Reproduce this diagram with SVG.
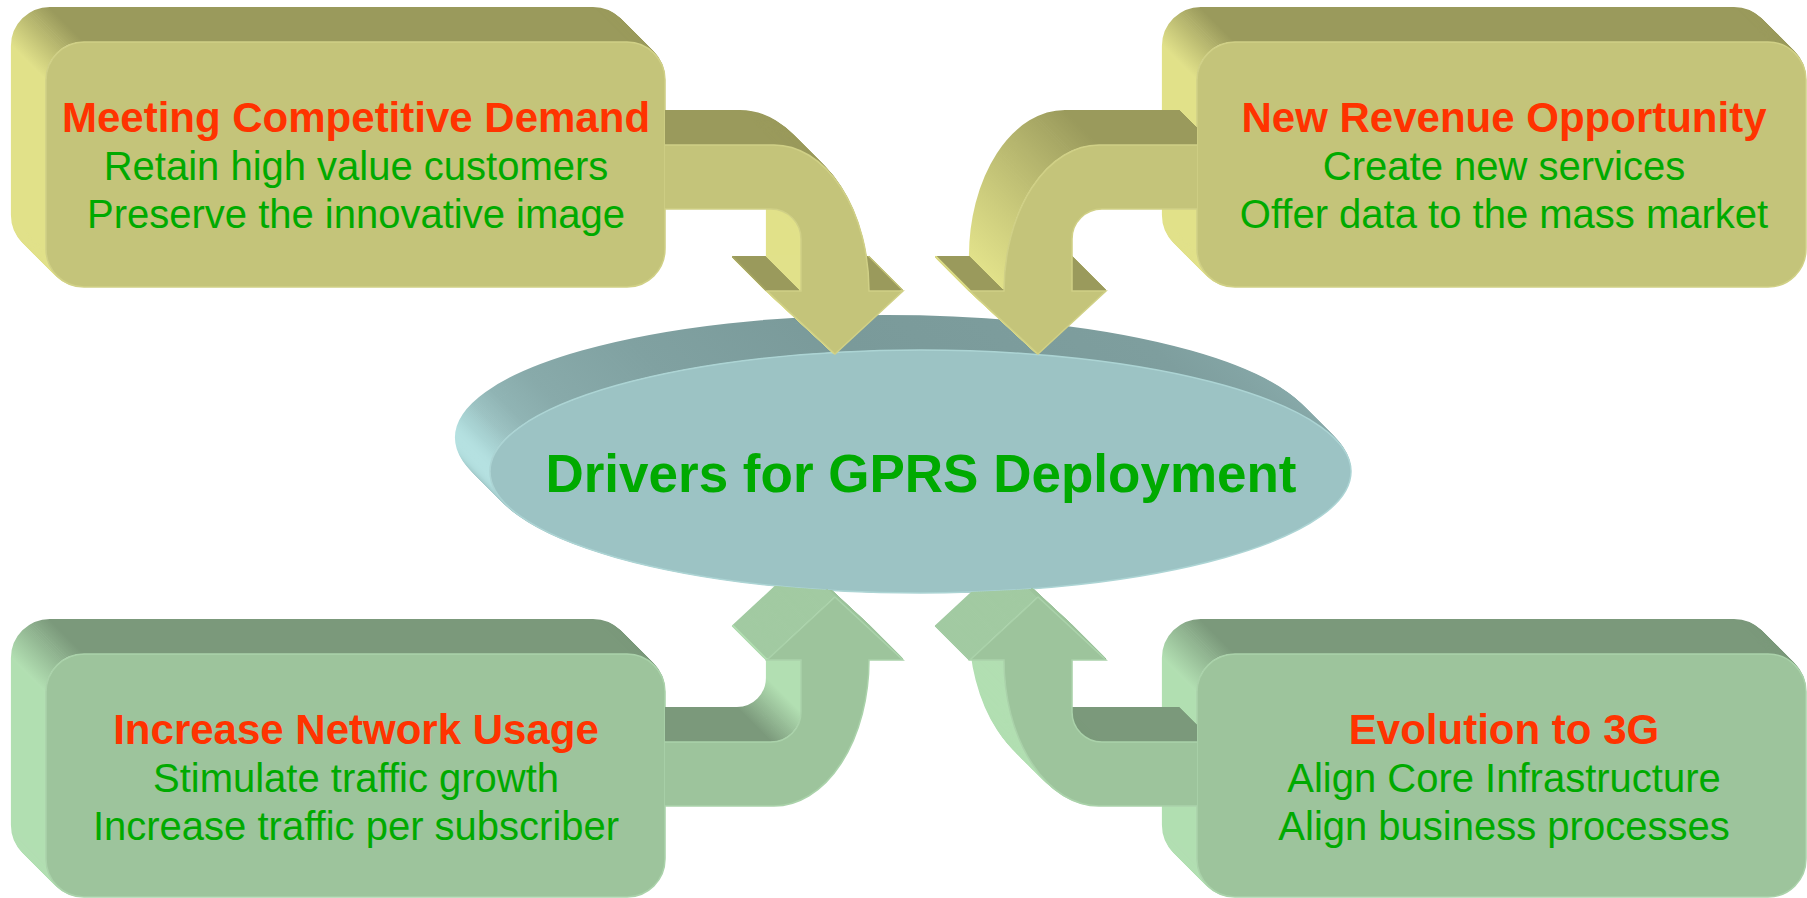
<svg xmlns="http://www.w3.org/2000/svg" width="1807" height="898" viewBox="0 0 1807 898">
<style>
.s{fill:none;stroke-width:2.2;stroke-linecap:round;stroke-linejoin:round}
.yd{stroke:#9a9a5c}.yl{stroke:#e1e18a}.yF{stroke:#c4c47a}.yc{stroke:url(#ycn)}
.gd{stroke:#7b997b}.gl{stroke:#b2dfb2}.gF{stroke:#9dc49c}.gm{stroke:#a2caa2}.gc{stroke:url(#gcn)}.gi{stroke:url(#gin)}
.yf{fill:#c4c47a;stroke:#d0d086;stroke-width:1.5}
.gf{fill:#9dc49c;stroke:#aad2aa;stroke-width:1.5}
.tf{fill:#9cc3c4;stroke:#acd4d4;stroke-width:1.5}
.ttl{font-family:"Liberation Sans",Arial,sans-serif;font-weight:bold;font-size:42px;fill:#ff3300;text-anchor:middle}
.bdy{font-family:"Liberation Sans",Arial,sans-serif;font-size:40px;fill:#00aa00;text-anchor:middle}
.ctr{font-family:"Liberation Sans",Arial,sans-serif;font-weight:bold;font-size:53px;fill:#00aa00;text-anchor:middle}
</style>
<defs>
<linearGradient id="rim" gradientUnits="userSpaceOnUse" x1="490" y1="0" x2="1351" y2="0">
<stop offset="0" stop-color="#b5e1e1"/><stop offset="0.006" stop-color="#aad5d5"/><stop offset="0.02" stop-color="#9cc2c2"/><stop offset="0.04" stop-color="#90b4b4"/><stop offset="0.08" stop-color="#88aaaa"/><stop offset="0.2" stop-color="#80a1a1"/><stop offset="0.42" stop-color="#7a9a9a"/><stop offset="0.8" stop-color="#7e9e9e"/><stop offset="1" stop-color="#88aaaa"/>
</linearGradient>
<linearGradient id="ycn" x1="0" y1="1" x2="1" y2="0"><stop offset="0" stop-color="#e1e18a"/><stop offset="1" stop-color="#9a9a5c"/></linearGradient>
<linearGradient id="gcn" x1="0" y1="1" x2="1" y2="0"><stop offset="0" stop-color="#b2dfb2"/><stop offset="1" stop-color="#7b997b"/></linearGradient>
<linearGradient id="gin" x1="1" y1="0" x2="0" y2="1"><stop offset="0" stop-color="#b2dfb2"/><stop offset="1" stop-color="#7b997b"/></linearGradient>
<clipPath id="conn-clip"><path clip-rule="evenodd" d="M0,0 H1807 V898 H0 Z M84,42 H627 A38,38 0 0 1 665,80 V249 A38,38 0 0 1 627,287 H84 A38,38 0 0 1 46,249 V80 A38,38 0 0 1 84,42 Z M1235,42 H1768 A38,38 0 0 1 1806,80 V249 A38,38 0 0 1 1768,287 H1235 A38,38 0 0 1 1197,249 V80 A38,38 0 0 1 1235,42 Z M84,654 H627 A38,38 0 0 1 665,692 V859 A38,38 0 0 1 627,897 H84 A38,38 0 0 1 46,859 V692 A38,38 0 0 1 84,654 Z M1235,654 H1768 A38,38 0 0 1 1806,692 V859 A38,38 0 0 1 1768,897 H1235 A38,38 0 0 1 1197,859 V692 A38,38 0 0 1 1235,654 Z M490,471.5 A430.5,121.5 0 0 0 1351,471.5 Z"/></clipPath>
<g id="e-tl">
<path class="s yd" d="M84,42 H627 A38,38 0 0 1 665,80 V249"/>
<path class="s yl" d="M665,249 A38,38 0 0 1 627,287 H84 A38,38 0 0 1 46,249 V80"/>
<path class="s yc" d="M46,80 A38,38 0 0 1 84,42"/>
</g>
<g id="e-tr">
<path class="s yd" d="M1235,42 H1768 A38,38 0 0 1 1806,80 V249"/>
<path class="s yl" d="M1806,249 A38,38 0 0 1 1768,287 H1235 A38,38 0 0 1 1197,249 V80"/>
<path class="s yc" d="M1197,80 A38,38 0 0 1 1235,42"/>
</g>
<g id="e-bl">
<path class="s gd" d="M84,654 H627 A38,38 0 0 1 665,692 V859"/>
<path class="s gl" d="M665,859 A38,38 0 0 1 627,897 H84 A38,38 0 0 1 46,859 V692"/>
<path class="s gc" d="M46,692 A38,38 0 0 1 84,654"/>
</g>
<g id="e-br">
<path class="s gd" d="M1235,654 H1768 A38,38 0 0 1 1806,692 V859"/>
<path class="s gl" d="M1806,859 A38,38 0 0 1 1768,897 H1235 A38,38 0 0 1 1197,859 V692"/>
<path class="s gc" d="M1197,692 A38,38 0 0 1 1235,654"/>
</g>
<ellipse id="e-ell" cx="920.5" cy="471.5" rx="430.5" ry="121.5" fill="none" stroke="url(#rim)" stroke-width="2.2"/>
<g id="e-arr">
<path class="s yd" d="M660,145 H774 A95,146 0 0 1 869,291 H903"/>
<path class="s yF" d="M903,291 L835,354"/>
<path class="s yl" d="M835,354 L767,291"/>
<path class="s yd" d="M767,291 H801"/>
<path class="s yl" d="M801,291 V239 A30,30 0 0 0 771,209 H660 V145"/>
<path class="s yd" d="M1213,145 H1099"/>
<path class="s yc" d="M1099,145 A95,146 0 0 0 1004,291"/>
<path class="s yd" d="M1004,291 H970"/>
<path class="s yl" d="M970,291 L1038,354"/>
<path class="s yF" d="M1038,354 L1106,291"/>
<path class="s yd" d="M1106,291 H1072 V239 A30,30 0 0 1 1102,209 H1213 V145"/>
<path class="s gl" d="M660,742 V806 H774 A95,146 0 0 0 869,660 H903"/>
<path class="s gF" d="M903,660 L835,597"/>
<path class="s gm" d="M835,597 L767,660"/>
<path class="s gl" d="M767,660 H801 V712"/>
<path class="s gi" d="M801,712 A30,30 0 0 1 771,742"/>
<path class="s gd" d="M771,742 H660"/>
<path class="s gl" d="M1213,806 H1099 A95,146 0 0 1 1004,660 H970"/>
<path class="s gm" d="M970,660 L1038,597"/>
<path class="s gF" d="M1038,597 L1106,660"/>
<path class="s gd" d="M1106,660 H1072 V712 A30,30 0 0 0 1102,742 H1213 V806"/>
</g>
</defs>

<g id="node-competitive-demand">
<use href="#e-tl" x="-34" y="-34"/><use href="#e-tl" x="-33" y="-33"/><use href="#e-tl" x="-32" y="-32"/><use href="#e-tl" x="-31" y="-31"/><use href="#e-tl" x="-30" y="-30"/><use href="#e-tl" x="-29" y="-29"/><use href="#e-tl" x="-28" y="-28"/><use href="#e-tl" x="-27" y="-27"/><use href="#e-tl" x="-26" y="-26"/><use href="#e-tl" x="-25" y="-25"/><use href="#e-tl" x="-24" y="-24"/><use href="#e-tl" x="-23" y="-23"/><use href="#e-tl" x="-22" y="-22"/><use href="#e-tl" x="-21" y="-21"/><use href="#e-tl" x="-20" y="-20"/><use href="#e-tl" x="-19" y="-19"/><use href="#e-tl" x="-18" y="-18"/><use href="#e-tl" x="-17" y="-17"/><use href="#e-tl" x="-16" y="-16"/><use href="#e-tl" x="-15" y="-15"/><use href="#e-tl" x="-14" y="-14"/><use href="#e-tl" x="-13" y="-13"/><use href="#e-tl" x="-12" y="-12"/><use href="#e-tl" x="-11" y="-11"/><use href="#e-tl" x="-10" y="-10"/><use href="#e-tl" x="-9" y="-9"/><use href="#e-tl" x="-8" y="-8"/><use href="#e-tl" x="-7" y="-7"/><use href="#e-tl" x="-6" y="-6"/><use href="#e-tl" x="-5" y="-5"/><use href="#e-tl" x="-4" y="-4"/><use href="#e-tl" x="-3" y="-3"/><use href="#e-tl" x="-2" y="-2"/><use href="#e-tl" x="-1" y="-1"/>
<rect class="yf" x="46" y="42" width="619" height="245" rx="38"/>
<text class="ttl" x="356" y="132">Meeting Competitive Demand</text>
<text class="bdy" x="356" y="180">Retain high value customers</text>
<text class="bdy" x="356" y="228">Preserve the innovative image</text>
</g>

<g id="node-new-revenue">
<use href="#e-tr" x="-34" y="-34"/><use href="#e-tr" x="-33" y="-33"/><use href="#e-tr" x="-32" y="-32"/><use href="#e-tr" x="-31" y="-31"/><use href="#e-tr" x="-30" y="-30"/><use href="#e-tr" x="-29" y="-29"/><use href="#e-tr" x="-28" y="-28"/><use href="#e-tr" x="-27" y="-27"/><use href="#e-tr" x="-26" y="-26"/><use href="#e-tr" x="-25" y="-25"/><use href="#e-tr" x="-24" y="-24"/><use href="#e-tr" x="-23" y="-23"/><use href="#e-tr" x="-22" y="-22"/><use href="#e-tr" x="-21" y="-21"/><use href="#e-tr" x="-20" y="-20"/><use href="#e-tr" x="-19" y="-19"/><use href="#e-tr" x="-18" y="-18"/><use href="#e-tr" x="-17" y="-17"/><use href="#e-tr" x="-16" y="-16"/><use href="#e-tr" x="-15" y="-15"/><use href="#e-tr" x="-14" y="-14"/><use href="#e-tr" x="-13" y="-13"/><use href="#e-tr" x="-12" y="-12"/><use href="#e-tr" x="-11" y="-11"/><use href="#e-tr" x="-10" y="-10"/><use href="#e-tr" x="-9" y="-9"/><use href="#e-tr" x="-8" y="-8"/><use href="#e-tr" x="-7" y="-7"/><use href="#e-tr" x="-6" y="-6"/><use href="#e-tr" x="-5" y="-5"/><use href="#e-tr" x="-4" y="-4"/><use href="#e-tr" x="-3" y="-3"/><use href="#e-tr" x="-2" y="-2"/><use href="#e-tr" x="-1" y="-1"/>
<rect class="yf" x="1197" y="42" width="609" height="245" rx="38"/>
<text class="ttl" x="1504" y="132">New Revenue Opportunity</text>
<text class="bdy" x="1504" y="180">Create new services</text>
<text class="bdy" x="1504" y="228">Offer data to the mass market</text>
</g>

<g id="node-network-usage">
<use href="#e-bl" x="-34" y="-34"/><use href="#e-bl" x="-33" y="-33"/><use href="#e-bl" x="-32" y="-32"/><use href="#e-bl" x="-31" y="-31"/><use href="#e-bl" x="-30" y="-30"/><use href="#e-bl" x="-29" y="-29"/><use href="#e-bl" x="-28" y="-28"/><use href="#e-bl" x="-27" y="-27"/><use href="#e-bl" x="-26" y="-26"/><use href="#e-bl" x="-25" y="-25"/><use href="#e-bl" x="-24" y="-24"/><use href="#e-bl" x="-23" y="-23"/><use href="#e-bl" x="-22" y="-22"/><use href="#e-bl" x="-21" y="-21"/><use href="#e-bl" x="-20" y="-20"/><use href="#e-bl" x="-19" y="-19"/><use href="#e-bl" x="-18" y="-18"/><use href="#e-bl" x="-17" y="-17"/><use href="#e-bl" x="-16" y="-16"/><use href="#e-bl" x="-15" y="-15"/><use href="#e-bl" x="-14" y="-14"/><use href="#e-bl" x="-13" y="-13"/><use href="#e-bl" x="-12" y="-12"/><use href="#e-bl" x="-11" y="-11"/><use href="#e-bl" x="-10" y="-10"/><use href="#e-bl" x="-9" y="-9"/><use href="#e-bl" x="-8" y="-8"/><use href="#e-bl" x="-7" y="-7"/><use href="#e-bl" x="-6" y="-6"/><use href="#e-bl" x="-5" y="-5"/><use href="#e-bl" x="-4" y="-4"/><use href="#e-bl" x="-3" y="-3"/><use href="#e-bl" x="-2" y="-2"/><use href="#e-bl" x="-1" y="-1"/>
<rect class="gf" x="46" y="654" width="619" height="243" rx="38"/>
<text class="ttl" x="356" y="744">Increase Network Usage</text>
<text class="bdy" x="356" y="792">Stimulate traffic growth</text>
<text class="bdy" x="356" y="840">Increase traffic per subscriber</text>
</g>

<g id="node-evolution-3g">
<use href="#e-br" x="-34" y="-34"/><use href="#e-br" x="-33" y="-33"/><use href="#e-br" x="-32" y="-32"/><use href="#e-br" x="-31" y="-31"/><use href="#e-br" x="-30" y="-30"/><use href="#e-br" x="-29" y="-29"/><use href="#e-br" x="-28" y="-28"/><use href="#e-br" x="-27" y="-27"/><use href="#e-br" x="-26" y="-26"/><use href="#e-br" x="-25" y="-25"/><use href="#e-br" x="-24" y="-24"/><use href="#e-br" x="-23" y="-23"/><use href="#e-br" x="-22" y="-22"/><use href="#e-br" x="-21" y="-21"/><use href="#e-br" x="-20" y="-20"/><use href="#e-br" x="-19" y="-19"/><use href="#e-br" x="-18" y="-18"/><use href="#e-br" x="-17" y="-17"/><use href="#e-br" x="-16" y="-16"/><use href="#e-br" x="-15" y="-15"/><use href="#e-br" x="-14" y="-14"/><use href="#e-br" x="-13" y="-13"/><use href="#e-br" x="-12" y="-12"/><use href="#e-br" x="-11" y="-11"/><use href="#e-br" x="-10" y="-10"/><use href="#e-br" x="-9" y="-9"/><use href="#e-br" x="-8" y="-8"/><use href="#e-br" x="-7" y="-7"/><use href="#e-br" x="-6" y="-6"/><use href="#e-br" x="-5" y="-5"/><use href="#e-br" x="-4" y="-4"/><use href="#e-br" x="-3" y="-3"/><use href="#e-br" x="-2" y="-2"/><use href="#e-br" x="-1" y="-1"/>
<rect class="gf" x="1197" y="654" width="609" height="243" rx="38"/>
<text class="ttl" x="1504" y="744">Evolution to 3G</text>
<text class="bdy" x="1504" y="792">Align Core Infrastructure</text>
<text class="bdy" x="1504" y="840">Align business processes</text>
</g>

<g id="node-drivers">
<use href="#e-ell" x="-34" y="-34"/><use href="#e-ell" x="-33" y="-33"/><use href="#e-ell" x="-32" y="-32"/><use href="#e-ell" x="-31" y="-31"/><use href="#e-ell" x="-30" y="-30"/><use href="#e-ell" x="-29" y="-29"/><use href="#e-ell" x="-28" y="-28"/><use href="#e-ell" x="-27" y="-27"/><use href="#e-ell" x="-26" y="-26"/><use href="#e-ell" x="-25" y="-25"/><use href="#e-ell" x="-24" y="-24"/><use href="#e-ell" x="-23" y="-23"/><use href="#e-ell" x="-22" y="-22"/><use href="#e-ell" x="-21" y="-21"/><use href="#e-ell" x="-20" y="-20"/><use href="#e-ell" x="-19" y="-19"/><use href="#e-ell" x="-18" y="-18"/><use href="#e-ell" x="-17" y="-17"/><use href="#e-ell" x="-16" y="-16"/><use href="#e-ell" x="-15" y="-15"/><use href="#e-ell" x="-14" y="-14"/><use href="#e-ell" x="-13" y="-13"/><use href="#e-ell" x="-12" y="-12"/><use href="#e-ell" x="-11" y="-11"/><use href="#e-ell" x="-10" y="-10"/><use href="#e-ell" x="-9" y="-9"/><use href="#e-ell" x="-8" y="-8"/><use href="#e-ell" x="-7" y="-7"/><use href="#e-ell" x="-6" y="-6"/><use href="#e-ell" x="-5" y="-5"/><use href="#e-ell" x="-4" y="-4"/><use href="#e-ell" x="-3" y="-3"/><use href="#e-ell" x="-2" y="-2"/><use href="#e-ell" x="-1" y="-1"/>
<ellipse class="tf" cx="920.5" cy="471.5" rx="430.5" ry="121.5"/>
<text class="ctr" x="921" y="492">Drivers for GPRS Deployment</text>
</g>

<g id="connectors" clip-path="url(#conn-clip)">
<use href="#e-arr" x="-34" y="-34"/><use href="#e-arr" x="-33" y="-33"/><use href="#e-arr" x="-32" y="-32"/><use href="#e-arr" x="-31" y="-31"/><use href="#e-arr" x="-30" y="-30"/><use href="#e-arr" x="-29" y="-29"/><use href="#e-arr" x="-28" y="-28"/><use href="#e-arr" x="-27" y="-27"/><use href="#e-arr" x="-26" y="-26"/><use href="#e-arr" x="-25" y="-25"/><use href="#e-arr" x="-24" y="-24"/><use href="#e-arr" x="-23" y="-23"/><use href="#e-arr" x="-22" y="-22"/><use href="#e-arr" x="-21" y="-21"/><use href="#e-arr" x="-20" y="-20"/><use href="#e-arr" x="-19" y="-19"/><use href="#e-arr" x="-18" y="-18"/><use href="#e-arr" x="-17" y="-17"/><use href="#e-arr" x="-16" y="-16"/><use href="#e-arr" x="-15" y="-15"/><use href="#e-arr" x="-14" y="-14"/><use href="#e-arr" x="-13" y="-13"/><use href="#e-arr" x="-12" y="-12"/><use href="#e-arr" x="-11" y="-11"/><use href="#e-arr" x="-10" y="-10"/><use href="#e-arr" x="-9" y="-9"/><use href="#e-arr" x="-8" y="-8"/><use href="#e-arr" x="-7" y="-7"/><use href="#e-arr" x="-6" y="-6"/><use href="#e-arr" x="-5" y="-5"/><use href="#e-arr" x="-4" y="-4"/><use href="#e-arr" x="-3" y="-3"/><use href="#e-arr" x="-2" y="-2"/><use href="#e-arr" x="-1" y="-1"/>
<path id="arrow-competitive" class="yf" d="M660,145 H774 A95,146 0 0 1 869,291 H903 L835,354 L767,291 H801 V239 A30,30 0 0 0 771,209 H660 Z"/>
<path id="arrow-revenue" class="yf" d="M1213,145 H1099 A95,146 0 0 0 1004,291 H970 L1038,354 L1106,291 H1072 V239 A30,30 0 0 1 1102,209 H1213 Z"/>
<path id="arrow-usage" class="gf" d="M660,806 H774 A95,146 0 0 0 869,660 H903 L835,597 L767,660 H801 V712 A30,30 0 0 1 771,742 H660 Z"/>
<path id="arrow-evolution" class="gf" d="M1213,806 H1099 A95,146 0 0 1 1004,660 H970 L1038,597 L1106,660 H1072 V712 A30,30 0 0 0 1102,742 H1213 Z"/>
</g>
</svg>
